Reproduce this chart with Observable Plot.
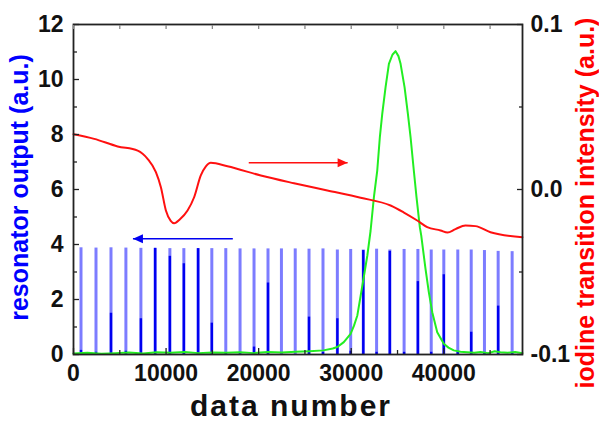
<!DOCTYPE html>
<html><head><meta charset="utf-8">
<script src="https://cdn.jsdelivr.net/npm/d3@7"></script>
<script src="https://cdn.jsdelivr.net/npm/@observablehq/plot@0.6"></script>
<style>body{margin:0;background:#fff} #chart svg{display:block}</style>
</head><body><div id="chart"></div>
<script>
// resonator output spikes (left axis)
const spikeX = [810, 2430, 4050, 5660, 7280, 8820, 10410, 11920, 13460, 14940, 16450, 17990, 19500, 21010, 22460, 23950, 25440, 26950, 28500, 29940, 31300, 32740, 34170, 35710, 37200, 38640, 40000, 41510, 42960, 44390, 45870, 47380];
const spikeLight = [3.88, 3.87, 3.88, 3.87, 3.86, 3.86, 3.85, 3.85, 3.85, 3.85, 3.85, 3.84, 3.84, 3.84, 3.84, 3.84, 3.83, 3.84, 3.80, 3.82, 3.80, 3.83, 3.80, 3.82, 3.82, 3.80, 3.80, 3.80, 3.80, 3.78, 3.75, 3.74];
const spikeDark = [0.15, 0.08, 1.5, 0.12, 1.3, 3.86, 3.57, 3.3, 3.85, 1.14, 0.05, 0.03, 0.27, 2.6, 0, 0, 1.36, 0.08, 1.3, 0.12, 3.78, 0.08, 3.75, 0.08, 2.65, 0.08, 2.9, 0.1, 0.81, 0.04, 1.76, 0.03];

// green peak (left axis)
const greenX = [0, 1500, 3000, 4500, 6000, 7500, 9000, 10500, 12000, 13500, 15000, 16500, 18000, 19500, 21000, 22500, 24000, 25500, 27000, 28000, 28500, 29200, 29930, 30300, 30660, 31200, 31740, 32090, 32450, 32810, 33090, 33350, 33710, 34070, 34450, 34790, 35100, 35330, 35760, 36120, 36410, 36760, 37050, 37410, 37560, 38020, 38380, 38750, 39290, 40000, 40500, 41080, 41800, 42520, 43300, 43960, 44800, 45500, 46110, 46900, 47700, 48490];
const greenV = [0.04, 0.06, 0.03, 0.05, 0.07, 0.04, 0.08, 0.06, 0.09, 0.05, 0.07, 0.06, 0.08, 0.05, 0.09, 0.07, 0.1, 0.12, 0.15, 0.22, 0.27, 0.45, 0.75, 1.05, 1.42, 2.5, 3.6, 4.5, 5.72, 6.69, 7.9, 8.75, 9.72, 10.57, 10.9, 11.03, 10.85, 10.57, 9.72, 8.75, 7.9, 6.69, 5.72, 4.63, 4.33, 3.12, 2.27, 1.54, 0.81, 0.39, 0.25, 0.15, 0.1, 0.08, 0.06, 0.09, 0.05, 0.12, 0.08, 0.06, 0.09, 0.05];

// red iodine transition intensity (right axis)
const redX = [0, 2240, 4770, 6930, 8000, 8900, 9440, 9980, 10500, 10870, 11500, 12320, 13030, 13750, 14300, 14830, 16630, 20230, 23820, 27420, 31010, 34250, 35650, 37130, 38210, 39650, 40400, 41260, 42340, 43420, 45040, 48490];
const redV = [0.0335, 0.0307, 0.0261, 0.0236, 0.0186, 0.0105, 0.0014, -0.0127, -0.019, -0.0204, -0.018, -0.0127, -0.0047, 0.0085, 0.014, 0.0162, 0.0141, 0.0085, 0.0038, -0.0006, -0.005, -0.0097, -0.0138, -0.0188, -0.0228, -0.0248, -0.0261, -0.024, -0.0218, -0.0222, -0.0259, -0.0289];

// axes
const xTicks = [0, 10000, 20000, 30000, 40000];
const xMinor = [5000, 15000, 25000, 35000, 45000];
const leftTicks = [0, 2, 4, 6, 8, 10, 12];
const leftMinor = [1, 3, 5, 7, 9, 11];
const rightTicks = [-0.1, 0.0, 0.1];
const rightTickLabels = ["-0.1", "0.0", "0.1"];
const rightMinor = [-0.05, 0.05];

// annotation arrows
const arrowRed = {x1: 18930, x2: 29610, v: 0.0162};
const arrowBlue = {x1: 17210, x2: 6420, v: 4.21};

const toLeft = v => (v + 0.1) * 60;
const spikes = spikeX.map((x, i) => ({x, light: spikeLight[i], dark: spikeDark[i]}));
const green = greenX.map((x, i) => ({x, v: greenV[i]}));
const red = redX.map((x, i) => ({x, v: toLeft(redV[i])}));
const rightMap = new Map(rightTicks.map((t, i) => [toLeft(t), rightTickLabels[i]]));

const head = {draw(ctx) { ctx.moveTo(0, 0); ctx.lineTo(-10, -4.5); ctx.lineTo(-10, 4.5); ctx.closePath(); }};

const ink = "#111";
const plot = Plot.plot({
  width: 599, height: 423,
  marginLeft: 73, marginRight: 77, marginTop: 24, marginBottom: 69,
  x: {domain: [0, 48500], label: null},
  y: {domain: [0, 12], label: null},
  style: {fontFamily: "'Liberation Sans', Arial, sans-serif", fontWeight: "bold", background: "white", color: ink},
  marks: [
    Plot.ruleX(spikes, {x: "x", y1: 0, y2: "light", stroke: "#7c7cff", strokeWidth: 3}),
    Plot.ruleX(spikes.filter(d => d.dark > 0), {x: "x", y1: 0, y2: "dark", stroke: "#0000f0", strokeWidth: 2.4}),
    Plot.line(green, {x: "x", y: "v", stroke: "#22ee22", strokeWidth: 2}),
    Plot.line(red, {x: "x", y: "v", stroke: "#ff1010", strokeWidth: 2, curve: "monotone-x"}),
    Plot.link([arrowRed], {x1: "x1", x2: "x2", y1: d => toLeft(d.v), y2: d => toLeft(d.v), stroke: "#ff1010", strokeWidth: 1.5}),
    Plot.dot([arrowRed], {x: "x2", y: d => toLeft(d.v), symbol: head, r: 5, fill: "#ff1010", stroke: "none"}),
    Plot.link([arrowBlue], {x1: "x1", x2: "x2", y1: "v", y2: "v", stroke: "#0000f0", strokeWidth: 1.5}),
    Plot.dot([arrowBlue], {x: "x2", y: "v", symbol: head, rotate: 180, r: 5, fill: "#0000f0", stroke: "none"}),
    Plot.frame({stroke: "#222", strokeWidth: 1.8}),
    // inward ticks
    Plot.axisY(leftTicks, {anchor: "left", tickSize: 6, dx: 6, fill: "none", label: null, stroke: "#222", strokeWidth: 1.3}),
    Plot.axisY(leftMinor, {anchor: "left", tickSize: 4, dx: 4, fill: "none", label: null, stroke: "#222", strokeWidth: 1.3}),
    Plot.axisY(rightTicks.map(toLeft), {anchor: "right", tickSize: 6, dx: -6, fill: "none", label: null, stroke: "#222", strokeWidth: 1.3}),
    Plot.axisY(rightMinor.map(toLeft), {anchor: "right", tickSize: 4, dx: -4, fill: "none", label: null, stroke: "#222", strokeWidth: 1.3}),
    Plot.axisX(xTicks, {anchor: "bottom", tickSize: 6, dy: -6, fill: "none", label: null, stroke: "#222", strokeWidth: 1.3}),
    Plot.axisX(xMinor, {anchor: "bottom", tickSize: 4, dy: -4, fill: "none", label: null, stroke: "#222", strokeWidth: 1.3}),
    Plot.axisX(xTicks.concat(xMinor), {anchor: "top", tickSize: 4, dy: 4, fill: "none", label: null, stroke: "#888", strokeWidth: 1.3}),
    // tick labels
    Plot.axisY(leftTicks, {anchor: "left", tickSize: 0, tickPadding: 10, fontSize: 23, fontWeight: "bold", fill: ink, label: null}),
    Plot.axisY(rightTicks.map(toLeft), {anchor: "right", tickSize: 0, tickPadding: 8, fontSize: 23, fontWeight: "bold", fill: ink, label: null, tickFormat: d => rightMap.get(d)}),
    Plot.axisX(xTicks, {anchor: "bottom", tickSize: 0, tickPadding: 10, fontSize: 23, fontWeight: "bold", fill: ink, label: null, tickFormat: d => String(d)}),
    // axis titles
    Plot.text(["resonator output (a.u.)"], {text: d => d, frameAnchor: "left", textAnchor: "middle", dx: -53.5, dy: -2, rotate: -90, fontSize: 25, fontWeight: "bold", fill: "#0000ff"}),
    Plot.text(["iodine transition intensity (a.u.)"], {text: d => d, frameAnchor: "right", textAnchor: "middle", dx: 63, dy: 13.5, rotate: -90, fontSize: 25, fontWeight: "bold", fill: "#ff0000"}),
    Plot.text(["data number"], {text: d => d, frameAnchor: "bottom", textAnchor: "middle", dx: -7, dy: 61, lineAnchor: "bottom", fontSize: 30, fontWeight: "bold", fill: ink, className: "xtitle"})
  ]
});
document.getElementById("chart").appendChild(plot);
plot.querySelectorAll(".xtitle text").forEach(t => t.setAttribute("letter-spacing", "2"));
</script>
</body></html>
